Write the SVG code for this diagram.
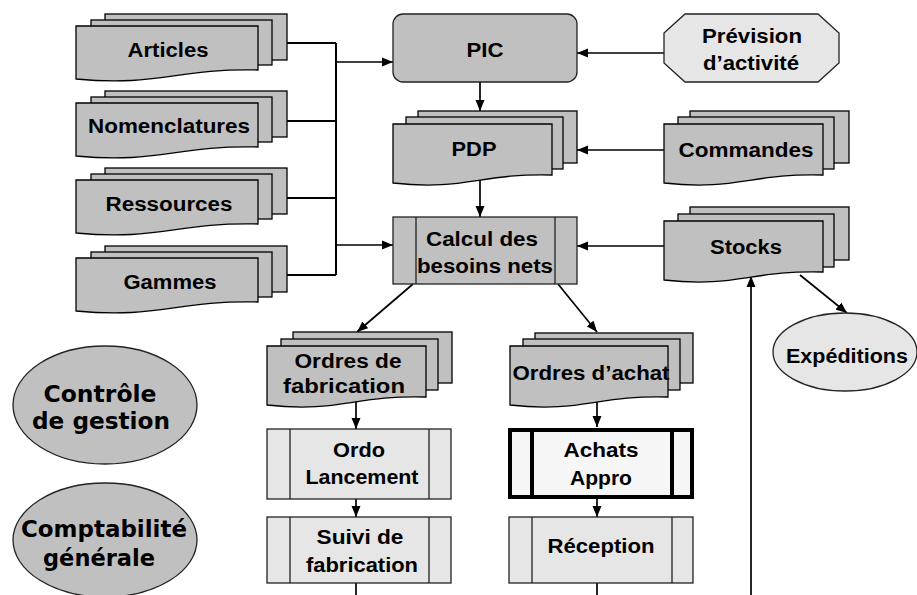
<svg xmlns="http://www.w3.org/2000/svg" width="917" height="595" viewBox="0 0 917 595">
<defs>
<marker id="ah" markerUnits="userSpaceOnUse" markerWidth="12" markerHeight="10" refX="11" refY="5" orient="auto">
<path d="M0,0.5 L11,5 L0,9.5 Z" fill="#000"/>
</marker>
<style>
.doc{fill:#c0c0c0;stroke:#000;stroke-width:1.3}
.box{fill:#c0c0c0;stroke:#222;stroke-width:1.3}
.light{fill:#e6e6e6;stroke:#222;stroke-width:1.3}
.t{font-family:"Liberation Sans",Arial,sans-serif;font-weight:bold;font-size:20px;fill:#000;text-anchor:middle}
.v{font-family:"DejaVu Sans",Verdana,sans-serif;font-weight:bold;font-size:23px;fill:#000;text-anchor:middle}
.c{stroke:#000;stroke-width:2;fill:none}
.a{stroke:#000;stroke-width:1.7;fill:none;marker-end:url(#ah)}
</style>
</defs>
<rect width="917" height="595" fill="#fff"/>

<g id="connectors">
<path class="c" d="M287,43 H336 M287,121 H336 M287,198 H336 M287,275 H336 M336,43 V275"/>
<line class="a" x1="336" y1="62" x2="393" y2="62"/>
<line class="a" x1="336" y1="245" x2="393" y2="245"/>
<line class="a" x1="664" y1="53" x2="577" y2="53"/>
<line class="a" x1="480" y1="82" x2="480" y2="111"/>
<line class="a" x1="664" y1="150" x2="577" y2="150"/>
<line class="a" x1="480" y1="178" x2="480" y2="217"/>
<line class="a" x1="664" y1="246" x2="577" y2="246"/>
<line class="a" x1="413" y1="284" x2="357" y2="332"/>
<line class="a" x1="558" y1="284" x2="597" y2="332"/>
<line class="a" x1="800" y1="275" x2="847" y2="313"/>
<line class="a" x1="751" y1="595" x2="751" y2="276"/>
<line class="a" x1="356" y1="401" x2="356" y2="429"/>
<line class="a" x1="356" y1="499" x2="356" y2="517"/>
<line class="c" x1="356" y1="583" x2="356" y2="595" style="stroke-width:1.7"/>
<line class="a" x1="597" y1="400" x2="597" y2="427"/>
<line class="a" x1="597" y1="499" x2="597" y2="517"/>
<line class="c" x1="597" y1="583" x2="597" y2="595" style="stroke-width:1.7"/>
</g>

<g id="articles">
<rect class="doc" x="105" y="14" width="182" height="46"/>
<rect class="doc" x="91" y="20" width="181" height="45"/>
<path class="doc" d="M76,26 H258 V70 C176,68 158,87 76,79 Z"/>
<text class="t" x="168" y="57" textLength="81" lengthAdjust="spacingAndGlyphs">Articles</text>
</g>
<g id="nomenclatures">
<rect class="doc" x="105" y="91" width="182" height="46"/>
<rect class="doc" x="91" y="97" width="181" height="45"/>
<path class="doc" d="M76,103 H258 V147 C176,145 158,164 76,156 Z"/>
<text class="t" x="169" y="133" textLength="162" lengthAdjust="spacingAndGlyphs">Nomenclatures</text>
</g>
<g id="ressources">
<rect class="doc" x="105" y="168" width="182" height="46"/>
<rect class="doc" x="91" y="174" width="181" height="45"/>
<path class="doc" d="M76,180 H258 V224 C176,222 158,241 76,233 Z"/>
<text class="t" x="169" y="211" textLength="127" lengthAdjust="spacingAndGlyphs">Ressources</text>
</g>
<g id="gammes">
<rect class="doc" x="105" y="246" width="182" height="46"/>
<rect class="doc" x="91" y="252" width="181" height="45"/>
<path class="doc" d="M76,258 H258 V302 C176,300 158,319 76,311 Z"/>
<text class="t" x="170" y="289" textLength="93" lengthAdjust="spacingAndGlyphs">Gammes</text>
</g>

<g id="pic">
<rect class="box" x="393" y="14" width="184" height="68" rx="10"/>
<text class="t" x="485" y="57" textLength="37" lengthAdjust="spacingAndGlyphs">PIC</text>
</g>
<g id="prevision">
<polygon class="light" points="685,14 818,14 839,33 839,63 818,82 685,82 664,63 664,33"/>
<text class="t" x="752" y="43" textLength="100" lengthAdjust="spacingAndGlyphs">Prévision</text>
<text class="t" x="751" y="70" textLength="96" lengthAdjust="spacingAndGlyphs">d’activité</text>
</g>
<g id="pdp">
<rect class="doc" x="418" y="111" width="159" height="52"/>
<rect class="doc" x="406" y="117" width="157" height="52"/>
<path class="doc" d="M393,124 H552 V175 C480,173 465,191 393,183 Z"/>
<text class="t" x="474" y="156" textLength="45" lengthAdjust="spacingAndGlyphs">PDP</text>
</g>
<g id="commandes">
<rect class="doc" x="690" y="111" width="159" height="52"/>
<rect class="doc" x="678" y="117" width="156" height="52"/>
<path class="doc" d="M664,124 H823 V175 C751,173 736,191 664,183 Z"/>
<text class="t" x="746" y="157" textLength="135" lengthAdjust="spacingAndGlyphs">Commandes</text>
</g>
<g id="calcul">
<rect class="box" x="393" y="217" width="184" height="67"/>
<path class="box" d="M416,217 V284 M555,217 V284"/>
<text class="t" x="482" y="246" textLength="112" lengthAdjust="spacingAndGlyphs">Calcul des</text>
<text class="t" x="485" y="273" textLength="136" lengthAdjust="spacingAndGlyphs">besoins nets</text>
</g>
<g id="stocks">
<rect class="doc" x="690" y="207" width="159" height="53"/>
<rect class="doc" x="678" y="214" width="156" height="53"/>
<path class="doc" d="M664,221 H823 V272 C751,270 736,288 664,280 Z"/>
<text class="t" x="746" y="254" textLength="72" lengthAdjust="spacingAndGlyphs">Stocks</text>
</g>
<g id="expeditions">
<ellipse class="light" cx="845" cy="352" rx="72" ry="39"/>
<text class="t" x="847" y="363" textLength="122" lengthAdjust="spacingAndGlyphs">Expéditions</text>
</g>
<g id="ordres-fabrication">
<rect class="doc" x="293" y="332" width="159" height="51"/>
<rect class="doc" x="281" y="339" width="157" height="51"/>
<path class="doc" d="M267,346 H426 V397 C354,395 339,413 267,405 Z"/>
<text class="t" x="348" y="368" font-size="21" textLength="107" lengthAdjust="spacingAndGlyphs">Ordres de</text>
<text class="t" x="344" y="393" font-size="21" textLength="122" lengthAdjust="spacingAndGlyphs">fabrication</text>
</g>
<g id="ordres-achat">
<rect class="doc" x="535" y="333" width="158" height="50"/>
<rect class="doc" x="523" y="339" width="157" height="51"/>
<path class="doc" d="M510,346 H668 V397 C597,395 581,413 510,405 Z"/>
<text class="t" x="591" y="380" font-size="21" textLength="157" lengthAdjust="spacingAndGlyphs">Ordres d’achat</text>
</g>
<g id="ordo">
<rect class="light" x="267" y="429" width="184" height="70"/>
<path class="light" d="M290,429 V499 M429,429 V499"/>
<text class="t" x="359" y="457" textLength="52" lengthAdjust="spacingAndGlyphs">Ordo</text>
<text class="t" x="362" y="484" textLength="113" lengthAdjust="spacingAndGlyphs">Lancement</text>
</g>
<g id="suivi">
<rect class="light" x="267" y="517" width="184" height="66"/>
<path class="light" d="M290,517 V583 M429,517 V583"/>
<text class="t" x="360" y="544" textLength="87" lengthAdjust="spacingAndGlyphs">Suivi de</text>
<text class="t" x="362" y="572" textLength="112" lengthAdjust="spacingAndGlyphs">fabrication</text>
</g>
<g id="achats">
<rect x="510" y="430" width="182" height="67" fill="#f6f6f6" stroke="#000" stroke-width="4"/>
<path d="M532,430 V497 M672,430 V497" stroke="#000" stroke-width="4"/>
<text class="t" x="601" y="457" textLength="75" lengthAdjust="spacingAndGlyphs">Achats</text>
<text class="t" x="601" y="485" textLength="62" lengthAdjust="spacingAndGlyphs">Appro</text>
</g>
<g id="reception">
<rect class="light" x="509" y="517" width="184" height="66"/>
<path class="light" d="M532,517 V583 M672,517 V583"/>
<text class="t" x="601" y="553" textLength="107" lengthAdjust="spacingAndGlyphs">Réception</text>
</g>
<g id="controle">
<ellipse class="box" cx="105" cy="405" rx="92" ry="59"/>
<text class="v" x="100" y="402" textLength="113" lengthAdjust="spacingAndGlyphs">Contrôle</text>
<text class="v" x="101" y="429" textLength="138" lengthAdjust="spacingAndGlyphs">de gestion</text>
</g>
<g id="comptabilite">
<ellipse class="box" cx="105" cy="540" rx="92" ry="57"/>
<text class="v" x="104" y="537" textLength="166" lengthAdjust="spacingAndGlyphs">Comptabilité</text>
<text class="v" x="99" y="566" textLength="112" lengthAdjust="spacingAndGlyphs">générale</text>
</g>
</svg>
